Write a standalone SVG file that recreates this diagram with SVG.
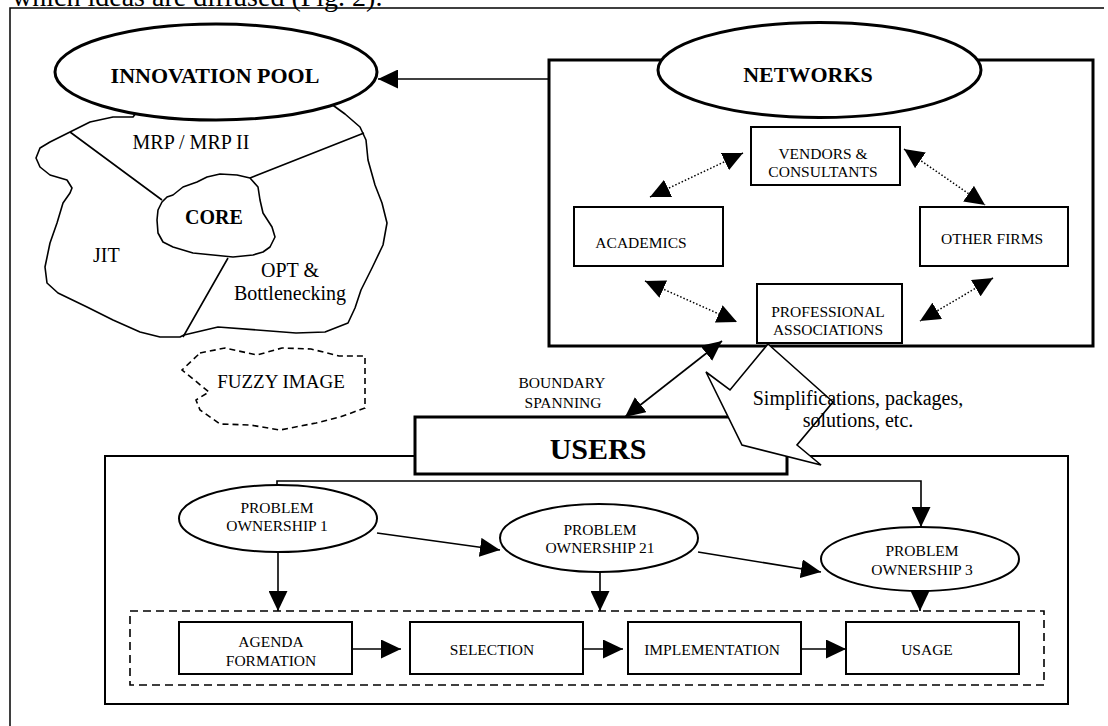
<svg xmlns="http://www.w3.org/2000/svg" width="1108" height="726" viewBox="0 0 1108 726">
<style>
text{font-family:"Liberation Serif","Times New Roman",serif;fill:#000}
.t{font-size:15.5px;text-anchor:middle}
.b{font-size:20px}
.m{text-anchor:middle}
.bold{font-weight:bold}
.ln{fill:none;stroke:#000;stroke-width:1.6}
.dot{fill:none;stroke:#000;stroke-width:1.5;stroke-dasharray:1.5,2}
.box{fill:#fff;stroke:#000;stroke-width:2}
.thick{fill:#fff;stroke:#000;stroke-width:3}
</style>
<defs>
<marker id="ah" markerUnits="userSpaceOnUse" markerWidth="20" markerHeight="19" refX="20" refY="9.5" orient="auto-start-reverse" viewBox="0 0 20 19">
<path d="M0,0 L20,9.5 L0,19 Z" fill="#000" stroke="none"/>
</marker>
</defs>
<rect width="1108" height="726" fill="#fff"/>
<text x="12" y="6" style="font-size:28px">which ideas are diffused (Fig. 2).</text>
<path d="M10,726 V8 H1104" fill="none" stroke="#000" stroke-width="1.5"/>

<g id="innovation-pool-map">
<path class="ln" stroke-linejoin="round" d="M133,117 L113,117 L90,122 L70,132 L50,142 L40,148 L36,158 L40,167 L50,175 L67,180 L72,188 L70,193 L63,203 L57,223 L50,243 L45,267 L47,283 L58,293 L87,307 L113,320 L140,332 L160,337 L180,337 L184,335 L218,327 L296,333 L325,332 L348,323 L355,308 L361,290 L372,268 L383,245 L387,223 L382,203 L375,185 L368,160 L366,140 L360,127 L345,114 L334,106 L300,90 L150,95 Z" style="fill:#fff"/>
<path class="ln" d="M70,132 L162,200 M250,178 L364,133 M228,258 L183,337"/>
<path class="ln" stroke-linejoin="round" style="fill:#fff" d="M162,202 L167,197 L173,195 L183,187 L197,182 L207,177 L220,174 L237,175 L250,178 L258,187 L260,200 L263,213 L272,227 L275,237 L270,247 L263,252 L253,255 L233,257 L213,255 L193,253 L173,247 L163,242 L158,233 L157,220 L158,210 Z"/>
<text class="b m" x="191" y="149">MRP / MRP II</text>
<text class="b m bold" x="214" y="224">CORE</text>
<text class="b" x="93" y="262">JIT</text>
<text class="b m" x="290" y="277">OPT &amp;</text>
<text class="b m" x="290" y="300">Bottlenecking</text>
</g>

<g id="innovation-pool">
<ellipse class="thick" cx="216" cy="72" rx="161" ry="48"/>
<text class="m bold" x="215" y="83" style="font-size:22px">INNOVATION POOL</text>
</g>

<g id="fuzzy-image">
<path fill="none" stroke="#000" stroke-width="1.6" stroke-dasharray="6,4" d="M200,353 L225,348 L257,355 L282,348 L311,349 L339,356 L365,356 L365,408 L340,417 L316,423 L280,430 L250,425 L220,424 L200,410 L196,400 L209,392 L182,370 Z"/>
<text class="m" x="281" y="388" style="font-size:19px">FUZZY IMAGE</text>
</g>

<g id="networks">
<rect class="thick" x="549" y="60" width="544" height="286"/>
<ellipse class="thick" cx="819.5" cy="70" rx="161.5" ry="47.5"/>
<text class="m bold" x="808" y="82" style="font-size:22px">NETWORKS</text>
</g>

<g id="vendors">
<rect class="box" x="751" y="127" width="149" height="58"/>
<text class="t" x="823" y="159">VENDORS &amp;</text>
<text class="t" x="823" y="177">CONSULTANTS</text>
</g>
<g id="academics">
<rect class="box" x="574" y="207" width="149" height="59"/>
<text class="t" x="641" y="248">ACADEMICS</text>
</g>
<g id="other-firms">
<rect class="box" x="920" y="207" width="148" height="59"/>
<text class="t" x="992" y="244">OTHER FIRMS</text>
</g>
<g id="professional">
<rect class="box" x="757" y="284" width="145" height="59"/>
<text class="t" x="828" y="317">PROFESSIONAL</text>
<text class="t" x="828" y="335">ASSOCIATIONS</text>
</g>

<g id="users-container">
<rect x="105" y="456" width="963" height="248" fill="#fff" stroke="#000" stroke-width="2"/>
</g>

<g id="connectors">
<line class="ln" x1="549" y1="79" x2="378" y2="79" marker-end="url(#ah)"/>
<line class="dot" x1="650" y1="197" x2="743" y2="153" marker-start="url(#ah)" marker-end="url(#ah)"/>
<line class="dot" x1="904" y1="149" x2="985" y2="205" marker-start="url(#ah)" marker-end="url(#ah)"/>
<line class="dot" x1="645" y1="281" x2="737" y2="322" marker-start="url(#ah)" marker-end="url(#ah)"/>
<line class="dot" x1="993" y1="278" x2="920" y2="321" marker-start="url(#ah)" marker-end="url(#ah)"/>
<line class="ln" x1="625" y1="417" x2="722" y2="341" marker-start="url(#ah)" marker-end="url(#ah)"/>
<path class="ln" d="M277,485 V481 H921 V527" marker-end="url(#ah)"/>
<line class="ln" x1="278" y1="552" x2="278" y2="611" marker-end="url(#ah)"/>
<line class="ln" x1="600" y1="572" x2="600" y2="611" marker-end="url(#ah)"/>
<line class="ln" x1="920" y1="585" x2="920" y2="611" marker-end="url(#ah)"/>
<line class="ln" x1="377" y1="533" x2="500" y2="550" marker-end="url(#ah)"/>
<line class="ln" x1="698" y1="552" x2="821" y2="572" marker-end="url(#ah)"/>
<line class="ln" x1="352" y1="649" x2="401" y2="649" marker-end="url(#ah)"/>
<line class="ln" x1="574" y1="649" x2="623" y2="649" marker-end="url(#ah)"/>
<line class="ln" x1="796" y1="649" x2="846" y2="649" marker-end="url(#ah)"/>
</g>

<g id="users">
<rect class="thick" x="415" y="417" width="372" height="57"/>
<text class="m bold" x="598" y="459" style="font-size:30px">USERS</text>
</g>

<g id="boundary-label">
<text class="t" x="562" y="388">BOUNDARY</text>
<text class="t" x="563" y="408">SPANNING</text>
</g>

<g id="simplifications-arrow">
<path d="M768,344 L833,402 L797,445 L821,465 L742,445 L706,372 L730,390 Z" fill="#fff" stroke="#000" stroke-width="1.6" stroke-linejoin="miter"/>
<text class="b m" x="858" y="405">Simplifications, packages,</text>
<text class="b m" x="858" y="427">solutions, etc.</text>
</g>

<g id="po1">
<ellipse cx="278" cy="518.5" rx="99" ry="33.5" fill="#fff" stroke="#000" stroke-width="2"/>
<text class="t" x="277" y="513">PROBLEM</text>
<text class="t" x="277" y="531">OWNERSHIP 1</text>
</g>
<g id="po2">
<ellipse cx="599" cy="538" rx="99" ry="34" fill="#fff" stroke="#000" stroke-width="2"/>
<text class="t" x="600" y="535">PROBLEM</text>
<text class="t" x="600" y="553">OWNERSHIP 21</text>
</g>
<g id="po3">
<ellipse cx="920" cy="559" rx="99" ry="32" fill="#fff" stroke="#000" stroke-width="2"/>
<text class="t" x="922" y="556">PROBLEM</text>
<text class="t" x="922" y="575">OWNERSHIP 3</text>
</g>

<g id="process">
<rect x="130" y="611" width="914" height="74" fill="none" stroke="#000" stroke-width="1.6" stroke-dasharray="8,5"/>
</g>
<g id="agenda">
<rect class="box" x="179" y="622" width="173" height="52"/>
<text class="t" x="271" y="647">AGENDA</text>
<text class="t" x="271" y="666">FORMATION</text>
</g>
<g id="selection">
<rect class="box" x="410" y="622" width="173" height="52"/>
<text class="t" x="492" y="655">SELECTION</text>
</g>
<g id="implementation">
<rect class="box" x="628" y="622" width="173" height="52"/>
<text class="t" x="712" y="655">IMPLEMENTATION</text>
</g>
<g id="usage">
<rect class="box" x="846" y="622" width="173" height="52"/>
<text class="t" x="927" y="655">USAGE</text>
</g>
</svg>
